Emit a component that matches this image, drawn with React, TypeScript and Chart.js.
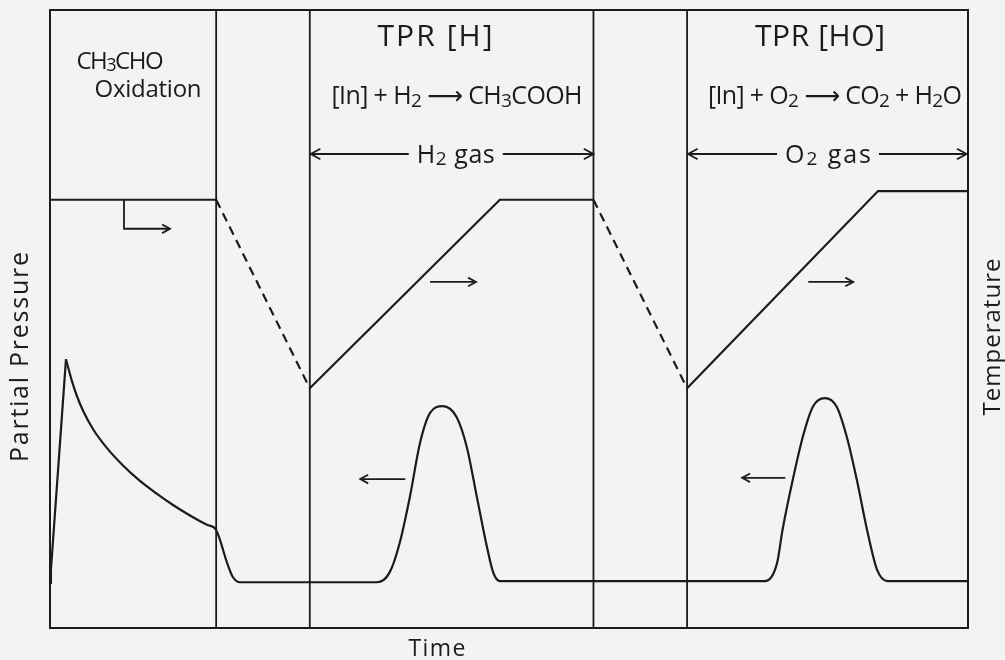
import React, { useEffect, useRef } from 'react';
import { Chart, registerables } from 'chart.js';
Chart.register(...registerables);

// ---- data (time in arbitrary units 0..100, signal in arbitrary units 0..100) ----
const pressureSpikeTime = [0, 0.1, 1.74];
const pressureSpikeValues = [7.3, 9.4, 43.5];

const pressureTime = [
  1.74, 2.4, 2.94, 3.59, 4.68, 6.21, 7.95, 9.8, 11.66, 13.4, 15.25, 17.1, 18.08, 19.3, 19.9, 20.7,
  35.6, 37.0, 38.1, 39.2, 40.3, 41.4, 42.8, 44.3, 45.4, 46.5, 47.6, 48.3, 49.0,
  77.9, 79.2, 79.8, 80.9, 82.0, 83.1, 84.4, 85.7, 86.8, 87.9, 89.0, 90.1, 91.2, 99.9,
];
const pressureValues = [
  43.5, 39.9, 37.5, 35.2, 32.2, 29.1, 26.3, 23.8, 21.7, 19.9, 18.2, 16.7, 15.9, 10.5, 8.3, 7.4,
  7.4, 9.0, 13.8, 21.2, 29.9, 34.8, 35.9, 34.1, 29.3, 21.2, 13.1, 8.9, 7.6,
  7.6, 10.5, 15.9, 23.9, 30.9, 35.8, 37.2, 35.8, 30.9, 23.9, 15.9, 9.4, 7.6, 7.6,
];

const temperatureTime = [0, 18.1, 28.3, 49.0, 59.2, 69.4, 90.2, 100];
const temperatureValues = [69.3, 69.3, 38.8, 69.3, 69.3, 38.8, 70.7, 70.7];
const temperaturePhase = ['hold', 'cool', 'ramp', 'hold', 'cool', 'ramp', 'hold'];

const dividerTimes = [18.1, 28.3, 59.2, 69.4];

// texts
const yTitle = 'Partial Pressure';
const y2Title = 'Temperature';
const xTitle = 'Time';
const stageTitle1 = ['CH', ['3'], 'CHO'];
const stageTitle1b = ['Oxidation'];
const stageTitle2 = ['TPR [H]'];
const stageTitle3 = ['TPR [HO]'];
const equation2 = ['[In] + H', ['2'], ' ⟶ CH', ['3'], 'COOH'];
const equation3 = ['[In] + O', ['2'], ' ⟶ CO', ['2'], ' + H', ['2'], 'O'];
const gasLabel2 = ['H', ['2'], ' gas'];
const gasLabel3 = ['O', ['2'], ' gas'];

const INK = '#1b1b1b';
const FONT = '"Open Sans", "DejaVu Sans", sans-serif';

type Part = string | string[];

function drawRich(
  ctx: CanvasRenderingContext2D,
  parts: Part[],
  cx: number,
  cy: number,
  size: number,
  target: number,
  angle = 0,
) {
  const chars: { ch: string; sub: boolean }[] = [];
  parts.forEach((p) => {
    const sub = Array.isArray(p);
    const t = sub ? (p as string[])[0] : (p as string);
    Array.from(t).forEach((ch) => chars.push({ ch, sub }));
  });
  const fontFor = (sub: boolean) => `${sub ? Math.round(size * 0.74) : size}px ${FONT}`;
  let natural = 0;
  const widths = chars.map((c) => {
    ctx.font = fontFor(c.sub);
    const w = ctx.measureText(c.ch).width;
    natural += w;
    return w;
  });
  let gap = chars.length > 1 ? (target - natural) / (chars.length - 1) : 0;
  gap = Math.max(-1.5, Math.min(5, gap));
  const total = natural + gap * (chars.length - 1);
  ctx.save();
  ctx.translate(cx, cy);
  ctx.rotate(angle);
  ctx.fillStyle = INK;
  ctx.textBaseline = 'alphabetic';
  ctx.textAlign = 'left';
  let x = -total / 2;
  const base = size * 0.36;
  chars.forEach((c, i) => {
    ctx.font = fontFor(c.sub);
    ctx.fillText(c.ch, x, base + (c.sub ? size * 0.1 : 0));
    x += widths[i] + gap;
  });
  ctx.restore();
}

function arrowHead(ctx: CanvasRenderingContext2D, x0: number, y0: number, x1: number, y1: number, len = 9) {
  const a = Math.atan2(y1 - y0, x1 - x0);
  const s = 0.5;
  ctx.beginPath();
  ctx.moveTo(x1 - len * Math.cos(a - s), y1 - len * Math.sin(a - s));
  ctx.lineTo(x1, y1);
  ctx.lineTo(x1 - len * Math.cos(a + s), y1 - len * Math.sin(a + s));
  ctx.stroke();
}

const annotationPlugin = {
  id: 'schematic',
  beforeDraw(chart: any) {
    const ctx = chart.ctx;
    ctx.save();
    ctx.fillStyle = '#f3f3f3';
    ctx.fillRect(0, 0, chart.width, chart.height);
    ctx.restore();
  },
  afterDatasetsDraw(chart: any) {
    const ctx: CanvasRenderingContext2D = chart.ctx;
    const xs = chart.scales.x;
    const ys = chart.scales.y;
    const X = (v: number) => xs.getPixelForValue(v);
    const Y = (v: number) => ys.getPixelForValue(v);
    const area = chart.chartArea;
    ctx.save();
    ctx.strokeStyle = INK;
    ctx.lineWidth = 2;
    ctx.strokeRect(area.left, area.top, area.right - area.left, area.bottom - area.top);

    // flow direction arrows
    ctx.lineWidth = 1.8;
    ctx.beginPath();
    ctx.moveTo(X(8.06), Y(69.3));
    ctx.lineTo(X(8.06), Y(64.6));
    ctx.lineTo(X(13.07), Y(64.6));
    ctx.stroke();
    arrowHead(ctx, X(8.06), Y(64.6), X(13.07), Y(64.6));
    const simple = [
      [41.4, 56.0, 46.4, 56.0],
      [38.7, 24.1, 33.8, 24.1],
      [82.6, 56.0, 87.5, 56.0],
      [80.1, 24.3, 75.4, 24.3],
    ];
    simple.forEach(([a, b, c, d]) => {
      ctx.beginPath();
      ctx.moveTo(X(a), Y(b));
      ctx.lineTo(X(c), Y(d));
      ctx.stroke();
      arrowHead(ctx, X(a), Y(b), X(c), Y(d));
    });

    // gas span arrows
    const gas = [
      { from: 28.4, to: 59.2, y: 76.7, cx: 44.2, w: 78, label: gasLabel2 },
      { from: 69.5, to: 99.85, y: 76.7, cx: 84.75, w: 86, label: gasLabel3 },
    ];
    gas.forEach((g) => {
      const yy = Y(g.y);
      const l = X(g.from);
      const r = X(g.to);
      const c = X(g.cx);
      ctx.beginPath();
      ctx.moveTo(c - g.w / 2 - 8, yy);
      ctx.lineTo(l, yy);
      ctx.stroke();
      arrowHead(ctx, c - g.w / 2 - 8, yy, l, yy, 11);
      ctx.beginPath();
      ctx.moveTo(c + g.w / 2 + 8, yy);
      ctx.lineTo(r, yy);
      ctx.stroke();
      arrowHead(ctx, c + g.w / 2 + 8, yy, r, yy, 11);
      drawRich(ctx, g.label, c, yy, 25, g.w);
    });

    // stage titles
    drawRich(ctx, stageTitle1, X(7.63), Y(91.9), 24, 86);
    drawRich(ctx, stageTitle1b, X(10.68), Y(87.4), 24, 107);
    drawRich(ctx, stageTitle2, X(41.94), Y(96.0), 30, 115);
    drawRich(ctx, stageTitle3, X(83.88), Y(96.0), 30, 130);
    drawRich(ctx, equation2, X(44.34), Y(86.2), 25, 251);
    drawRich(ctx, equation3, X(85.51), Y(86.2), 25, 254);

    // axis titles
    drawRich(ctx, [yTitle], 19, 357, 25, 210, -Math.PI / 2);
    drawRich(ctx, [y2Title], 991, 337, 24, 157, -Math.PI / 2);
    drawRich(ctx, [xTitle], 437, 648, 23, 57);
    ctx.restore();
  },
};

export default function App() {
  const ref = useRef<HTMLCanvasElement | null>(null);
  useEffect(() => {
    if (!ref.current) return;
    const line = { borderColor: INK, borderWidth: 2.2, pointRadius: 0, showLine: true, fill: false };
    const datasets: any[] = [
      {
        ...line,
        label: 'Partial Pressure (inlet)',
        data: pressureSpikeTime.map((x, i) => ({ x, y: pressureSpikeValues[i] })),
        tension: 0,
      },
      {
        ...line,
        label: 'Partial Pressure',
        data: pressureTime.map((x, i) => ({ x, y: pressureValues[i] })),
        cubicInterpolationMode: 'monotone',
      },
      {
        ...line,
        label: 'Temperature',
        data: temperatureTime.map((x, i) => ({ x, y: temperatureValues[i] })),
        tension: 0,
        segment: {
          borderDash: (c: any) => (temperaturePhase[c.p0DataIndex] === 'cool' ? [9, 6] : undefined),
        },
      },
      ...dividerTimes.map((d) => ({
        ...line,
        borderWidth: 1.8,
        label: 'switch',
        data: [
          { x: d, y: 0 },
          { x: d, y: 100 },
        ],
      })),
    ];
    const chart = new Chart(ref.current, {
      type: 'scatter',
      data: { datasets },
      options: {
        animation: false,
        responsive: false,
        devicePixelRatio: 1,
        layout: { padding: { left: 50, right: 37, top: 10, bottom: 32 } },
        plugins: { legend: { display: false }, tooltip: { enabled: false } },
        scales: {
          x: { type: 'linear', min: 0, max: 100, display: false },
          y: { type: 'linear', min: 0, max: 100, display: false },
        },
      },
      plugins: [annotationPlugin],
    });
    return () => chart.destroy();
  }, []);
  return (
    <div style={{ position: 'fixed', left: 0, top: 0, width: 1005, height: 660 }}>
      <canvas ref={ref} width={1005} height={660} />
    </div>
  );
}
